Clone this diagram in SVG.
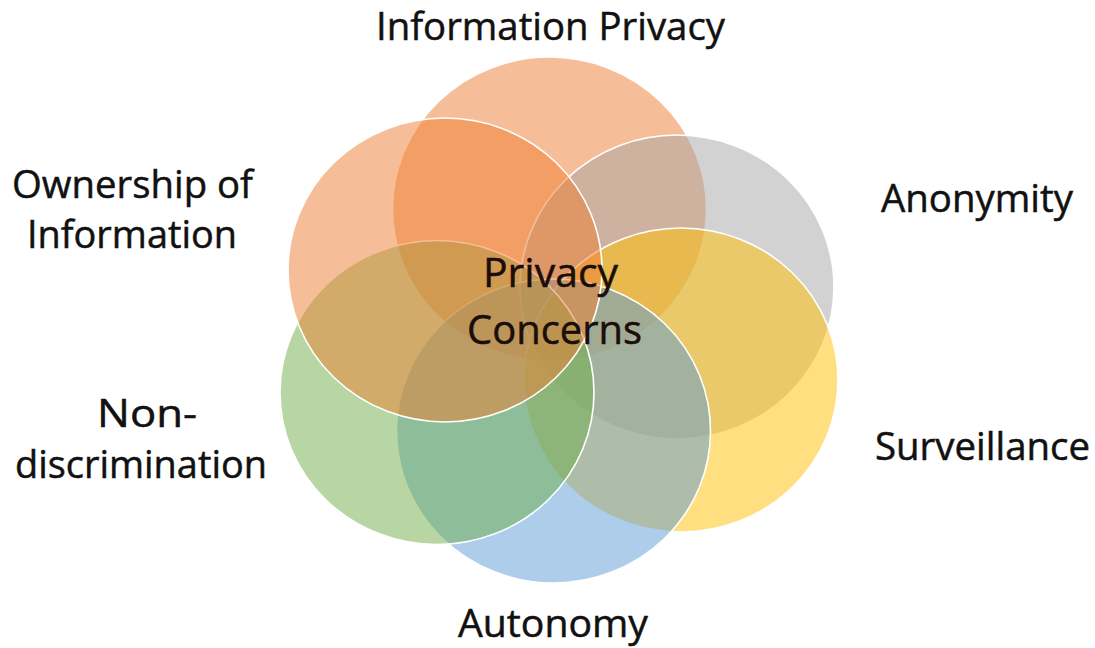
<svg xmlns="http://www.w3.org/2000/svg" width="1095" height="648" viewBox="0 0 1095 648">
  <style>
    .c { fill-opacity: 0.5; stroke: #ffffff; stroke-width: 1.6; }
    .lbl { font-family: "Open Sans", "Liberation Sans", sans-serif; font-size: 39px; fill: #111111; stroke: #111111; stroke-width: 0.5; }
    .ctr { font-family: "Open Sans", "Liberation Sans", sans-serif; font-size: 41px; fill: #1a0d0a; stroke: #1a0d0a; stroke-width: 0.5; }
  </style>
  <rect width="1095" height="648" fill="#ffffff"/>
  <g id="information-privacy">
    <ellipse class="c" cx="549.5" cy="209" rx="157" ry="152" fill="#ED7D31"/>
    <text class="lbl" x="376" y="40" textLength="349" lengthAdjust="spacingAndGlyphs">Information Privacy</text>
  </g>
  <g id="anonymity">
    <ellipse class="c" cx="677" cy="287" rx="157" ry="152" fill="#A5A5A5"/>
    <text class="lbl" x="881" y="211.5" textLength="192" lengthAdjust="spacingAndGlyphs">Anonymity</text>
  </g>
  <g id="surveillance">
    <ellipse class="c" cx="681" cy="380" rx="157" ry="152" fill="#FFC000"/>
    <text class="lbl" x="875" y="460" textLength="215" lengthAdjust="spacingAndGlyphs">Surveillance</text>
  </g>
  <g id="autonomy">
    <ellipse class="c" cx="553.5" cy="431" rx="157" ry="152" fill="#5B9BD5"/>
    <text class="lbl" x="458" y="637" textLength="190" lengthAdjust="spacingAndGlyphs">Autonomy</text>
  </g>
  <g id="non-discrimination">
    <ellipse class="c" cx="437" cy="392.5" rx="157" ry="152" fill="#70AD47"/>
    <text class="lbl" x="97" y="427" textLength="100" lengthAdjust="spacingAndGlyphs">Non-</text>
    <text class="lbl" x="15" y="478" textLength="252" lengthAdjust="spacingAndGlyphs">discrimination</text>
  </g>
  <g id="ownership-of-information">
    <ellipse class="c" cx="445" cy="270" rx="157" ry="152" fill="#ED7D31"/>
    <text class="lbl" x="12" y="198" textLength="241" lengthAdjust="spacingAndGlyphs">Ownership of</text>
    <text class="lbl" x="27" y="248" textLength="210" lengthAdjust="spacingAndGlyphs">Information</text>
  </g>
  <g id="privacy-concerns">
    <text class="ctr" x="483" y="287" textLength="135" lengthAdjust="spacingAndGlyphs">Privacy</text>
    <text class="ctr" x="467" y="344" textLength="175" lengthAdjust="spacingAndGlyphs">Concerns</text>
  </g>
</svg>
